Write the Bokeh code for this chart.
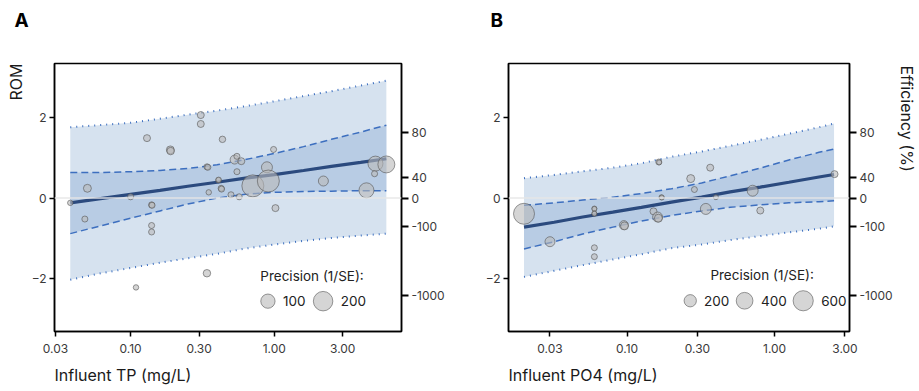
import math
from bokeh.plotting import figure
from bokeh.layouts import row
from bokeh.models import (Range1d, FixedTicker, LinearAxis, PrintfTickFormatter,
                          Title, Span, ColumnDataSource)
from bokeh.embed import file_html
from bokeh.resources import INLINE

# ---------------- Panel A data (Influent TP) ----------------
a_x = [0.308, 0.308, 0.130, 0.436, 0.189, 0.190, 0.99, 0.53, 0.55, 0.59,
       0.34, 0.345, 0.89, 0.55, 0.409, 0.41, 0.427, 0.43, 0.35, 0.71,
       0.91, 2.2, 5.07, 6.04, 5.0, 4.39, 0.050, 0.10, 0.50, 0.57,
       0.038, 0.048, 0.140, 0.141, 0.140, 0.140, 1.02, 0.34, 0.109]
a_rom = [2.05, 1.83, 1.48, 1.45, 1.19, 1.16, 1.20, 0.95, 1.03, 0.91,
         0.77, 0.76, 0.76, 0.65, 0.44, 0.45, 0.24, 0.22, 0.14, 0.30,
         0.42, 0.42, 0.85, 0.83, 0.60, 0.19, 0.24, 0.03, 0.08, 0.03,
         -0.12, -0.52, -0.17, -0.18, -0.68, -0.84, -0.25, -1.86, -2.21]
a_prec = [12, 12, 12, 8, 20, 16, 5, 30, 5, 12,
          5, 5, 53, 5, 1, 1, 5, 5, 1, 259,
          259, 41, 112, 148, 5, 112, 20, 5, 5, 5,
          1, 5, 5, 5, 5, 5, 12, 16, 1]

a_grid = [0.038, 0.06, 0.10, 0.16, 0.25, 0.40, 0.63, 1.0, 1.6, 2.5, 4.0, 6.04]
a_fit = [-0.12, -0.02, 0.09, 0.19, 0.29, 0.39, 0.49, 0.58, 0.68, 0.78, 0.88, 0.97]
a_ci_hi = [0.63, 0.63, 0.65, 0.68, 0.73, 0.82, 0.95, 1.10, 1.27, 1.45, 1.63, 1.80]
a_ci_lo = [-0.88, -0.70, -0.50, -0.32, -0.15, 0.0, 0.09, 0.14, 0.16, 0.17, 0.18, 0.18]
a_pi_hi = [1.75, 1.80, 1.86, 1.96, 2.06, 2.16, 2.27, 2.39, 2.52, 2.64, 2.78, 2.90]
a_pi_lo = [-2.02, -1.87, -1.73, -1.60, -1.49, -1.38, -1.25, -1.15, -1.06, -0.99, -0.93, -0.88]
a_leg_vals = [100, 200]

# ---------------- Panel B data (Influent PO4) ----------------
b_x = [0.164, 0.165, 0.366, 0.27, 0.286, 0.71, 2.55, 0.171, 0.172, 0.40,
       0.020, 0.030, 0.060, 0.060, 0.060, 0.060, 0.060, 0.060, 0.095, 0.096,
       0.151, 0.161, 0.163, 0.342, 0.80]
b_rom = [0.89, 0.88, 0.75, 0.48, 0.21, 0.18, 0.59, 0.02, 0.01, 0.02,
         -0.39, -1.08, -0.26, -0.27, -0.38, -0.39, -1.23, -1.45, -0.67, -0.69,
         -0.33, -0.47, -0.50, -0.27, -0.31]
b_prec = [20, 3, 41, 64, 20, 153, 41, 3, 3, 3,
          653, 120, 3, 3, 3, 3, 20, 20, 91, 64,
          41, 120, 64, 153, 41]

b_grid = [0.020, 0.032, 0.05, 0.08, 0.125, 0.20, 0.32, 0.50, 0.80, 1.25, 2.0, 2.53]
b_fit = [-0.72, -0.60, -0.47, -0.35, -0.23, -0.10, 0.02, 0.15, 0.27, 0.39, 0.52, 0.58]
b_ci_hi = [-0.18, -0.12, -0.05, 0.02, 0.11, 0.23, 0.37, 0.55, 0.74, 0.94, 1.13, 1.21]
b_ci_lo = [-1.26, -1.08, -0.89, -0.72, -0.57, -0.43, -0.32, -0.23, -0.17, -0.12, -0.09, -0.07]
b_pi_hi = [0.49, 0.57, 0.66, 0.75, 0.86, 1.02, 1.15, 1.29, 1.44, 1.59, 1.75, 1.84]
b_pi_lo = [-1.95, -1.80, -1.66, -1.52, -1.39, -1.24, -1.15, -1.04, -0.94, -0.85, -0.76, -0.70]
b_leg_vals = [200, 400, 600]

# axis tick values
rom_ticks = [-2, 0, 2]
eff_labels = [80, 40, 0, -100, -1000]
x_ticks = [0.03, 0.1, 0.3, 1.0, 3.0]

FONT = "Inter"
OUTER = "#d6e2ef"
INNER = "#b8cce4"
FITC = "#2b4a7e"
BANDL = "#3d6fbf"


def size_a(p):
    return math.sqrt(28 + 1.76 * p)


def size_b(p):
    return math.sqrt(23 + 0.64 * p)


def make_panel(letter, xr, grid, fit, ci_lo, ci_hi, pi_lo, pi_hi,
               xs, ys, precs, sizef, leg_vals, leg_text_xy, leg_pos, leg_lab_pos,
               xlabel, width, left_border, right_border, title_offset,
               left_title=None, right_title=None):
    p = figure(width=width, height=391, x_axis_type="log",
               x_range=Range1d(*xr), y_range=Range1d(-3.30, 3.325),
               output_backend="svg", toolbar_location=None,
               min_border_left=left_border, min_border_right=right_border,
               min_border_top=63, min_border_bottom=58)
    p.background_fill_color = "white"
    p.border_fill_color = "white"
    p.outline_line_color = "black"
    p.outline_line_width = 1.5
    p.xgrid.visible = False
    p.ygrid.visible = False

    # bands
    p.varea(x=grid, y1=pi_lo, y2=pi_hi, fill_color=OUTER, fill_alpha=1.0)
    p.varea(x=grid, y1=ci_lo, y2=ci_hi, fill_color=INNER, fill_alpha=1.0)
    p.add_layout(Span(location=0, dimension="width", line_color="#e6e6e6",
                      line_width=1.5, line_alpha=0.9))
    p.line(grid, pi_hi, line_color=BANDL, line_width=2, line_dash="1 5")
    p.line(grid, pi_lo, line_color=BANDL, line_width=2, line_dash="1 5")
    p.line(grid, ci_hi, line_color=BANDL, line_width=1.5, line_dash="7 4")
    p.line(grid, ci_lo, line_color=BANDL, line_width=1.5, line_dash="7 4")
    p.line(grid, fit, line_color=FITC, line_width=3.2)

    src = ColumnDataSource(dict(x=xs, y=ys, s=[sizef(v) for v in precs]))
    p.scatter("x", "y", size="s", source=src, fill_color="#b9b9b9", fill_alpha=0.6,
              line_color="#555555", line_alpha=0.6, line_width=1)

    # size legend
    p.text(x=[leg_text_xy[0]], y=[leg_text_xy[1]], text=["Precision (1/SE):"],
           text_font={"value": FONT}, text_font_size={"value": "13.5px"},
           text_color="#222222", text_baseline="middle", text_align="left")
    p.scatter(x=leg_pos, y=[leg_lab_pos[1]] * len(leg_vals),
              size=[sizef(v) for v in leg_vals], fill_color="#b9b9b9", fill_alpha=0.6,
              line_color="#555555", line_alpha=0.6, line_width=1)
    p.text(x=leg_lab_pos[0], y=[leg_lab_pos[1]] * len(leg_vals),
           text=[str(v) for v in leg_vals],
           text_font={"value": FONT}, text_font_size={"value": "13.5px"},
           text_color="#222222", text_baseline="middle", text_align="left")

    # axes
    xa = p.xaxis[0]
    xa.ticker = FixedTicker(ticks=x_ticks)
    xa.formatter = PrintfTickFormatter(format="%.2f")
    ya = p.yaxis[0]
    ya.ticker = FixedTicker(ticks=rom_ticks)
    for ax in (xa, ya):
        ax.minor_tick_line_color = None
        ax.major_tick_in = 0
        ax.major_tick_out = 5
        ax.major_tick_line_color = "black"
        ax.major_tick_line_width = 1.5
        ax.axis_line_color = "black"
        ax.axis_line_width = 1.5
        ax.major_label_text_font = FONT
        ax.major_label_text_font_size = "12px"
        ax.major_label_text_color = "#3a3a3a"
        ax.major_label_standoff = 4
    xa.major_label_standoff = 7
    ya.major_label_standoff = 3

    eff_ticks = [-math.log(1 - e / 100.0) for e in eff_labels]
    ra = LinearAxis(ticker=FixedTicker(ticks=eff_ticks),
                    major_label_overrides={t: str(e) for t, e in zip(eff_ticks, eff_labels)})
    ra.minor_tick_line_color = None
    ra.major_tick_in = 0
    ra.major_tick_out = 7
    ra.major_tick_line_color = "black"
    ra.major_tick_line_width = 2
    ra.axis_line_color = "black"
    ra.axis_line_width = 1.5
    ra.major_label_text_font = FONT
    ra.major_label_text_font_size = "12px"
    ra.major_label_text_color = "#3a3a3a"
    ra.major_label_standoff = 3
    p.add_layout(ra, "right")

    # titles: visible panel letter (p.title, outer), white spacer appended next to the frame
    p.title.text = letter
    p.title.align = "left"
    p.title.offset = title_offset
    p.title.text_font = FONT
    p.title.text_font_size = "19px"
    p.title.text_font_style = "bold"
    p.title.text_color = "black"
    p.title.standoff = 4
    p.add_layout(Title(text=letter, text_color="white", text_font=FONT,
                       text_font_size="19px", text_font_style="bold",
                       standoff=5), "above")

    p.add_layout(Title(text=xlabel, align="left", text_font=FONT,
                       text_font_size="16px", text_font_style="normal",
                       text_color="#1a1a1a", standoff=14), "below")
    if left_title:
        p.add_layout(Title(text=left_title, align="right", text_font=FONT,
                           text_font_size="16px", text_font_style="normal",
                           text_color="#1a1a1a", standoff=6), "left")
    if right_title:
        p.add_layout(Title(text=right_title, align="left", offset=2, text_font=FONT,
                           text_font_size="16px", text_font_style="normal",
                           text_color="#1a1a1a", standoff=2), "right")
    return p


pA = make_panel("A", (0.0295, 7.7), a_grid, a_fit, a_ci_lo, a_ci_hi, a_pi_lo, a_pi_hi,
                a_x, a_rom, a_prec, size_a, a_leg_vals,
                (0.80, -1.93), [0.904, 2.19], ([1.15, 2.91], -2.55),
                "Influent TP (mg/L)", 460, 52, 59, -40, left_title="ROM")
pB = make_panel("B", (0.0157, 3.22), b_grid, b_fit, b_ci_lo, b_ci_hi, b_pi_lo, b_pi_hi,
                b_x, b_rom, b_prec, size_b, b_leg_vals,
                (0.367, -1.91), [0.268, 0.626, 1.563], ([0.332, 0.808, 2.07], -2.54),
                "Influent PO4 (mg/L)", 459, 48, 62, -18, right_title="Efficiency (%)")

layout = row(pA, pB)
open("out.html", "w").write(file_html(layout, INLINE))
